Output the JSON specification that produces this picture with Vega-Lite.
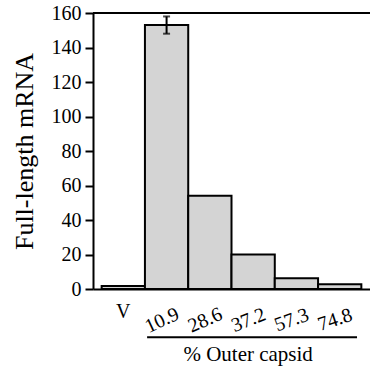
{
  "$schema": "https://vega.github.io/schema/vega-lite/v6.json",
  "width": 277,
  "height": 276,
  "autosize": "none",
  "padding": {"left": 93, "top": 13, "right": 0, "bottom": 84},
  "background": "white",
  "config": {"view": {"stroke": null}, "font": "Liberation Serif", "text": {"font": "Liberation Serif"}},
  "resolve": {"axis": {"x": "independent", "y": "independent"}},
  "data": {"values": [
    {"cat": "V", "value": 1.7},
    {"cat": "10.9", "value": 153, "lo": 148, "hi": 158},
    {"cat": "28.6", "value": 54},
    {"cat": "37.2", "value": 20},
    {"cat": "57.3", "value": 6.2},
    {"cat": "74.8", "value": 2.7}
  ]},
  "layer": [
    {
      "mark": {"type": "bar", "fill": "#d4d4d4", "stroke": "black", "strokeWidth": 2},
      "encoding": {
        "x": {"field": "cat", "type": "nominal", "sort": null,
          "scale": {"domain": ["V", "10.9", "28.6", "37.2", "57.3", "74.8"], "paddingInner": 0, "paddingOuter": 0.2},
          "axis": {"title": null, "labels": false, "ticks": false, "domain": true, "domainColor": "black", "domainWidth": 2}},
        "y": {"field": "value", "type": "quantitative",
          "scale": {"domain": [0, 160], "nice": false},
          "axis": {"title": "Full-length mRNA", "titleFont": "Liberation Serif", "titleFontSize": 26, "titleFontWeight": "normal", "titleColor": "black", "titlePadding": 14,
            "values": [0, 20, 40, 60, 80, 100, 120, 140, 160], "labelOverlap": false, "labelFont": "Liberation Serif", "labelFontSize": 20, "labelColor": "black", "labelPadding": 4,
            "tickSize": 8, "tickWidth": 2, "tickColor": "black", "domainColor": "black", "domainWidth": 2, "grid": false}}
      }
    },
    {
      "mark": {"type": "rule", "strokeWidth": 2, "color": "black"},
      "encoding": {"y": {"datum": 160, "axis": null}}
    },
    {
      "transform": [{"filter": "isValid(datum.hi)"}],
      "mark": {"type": "rule", "strokeWidth": 2, "color": "black"},
      "encoding": {
        "x": {"field": "cat", "type": "nominal", "axis": null},
        "y": {"field": "lo", "type": "quantitative", "axis": null},
        "y2": {"field": "hi"}
      }
    },
    {
      "transform": [{"filter": "isValid(datum.hi)"}],
      "mark": {"type": "tick", "size": 7, "thickness": 2, "color": "black", "orient": "horizontal"},
      "encoding": {
        "x": {"field": "cat", "type": "nominal", "axis": null},
        "y": {"field": "hi", "type": "quantitative", "axis": null}
      }
    },
    {
      "transform": [{"filter": "isValid(datum.hi)"}],
      "mark": {"type": "tick", "size": 7, "thickness": 2, "color": "black", "orient": "horizontal"},
      "encoding": {
        "x": {"field": "cat", "type": "nominal", "axis": null},
        "y": {"field": "lo", "type": "quantitative", "axis": null}
      }
    },
    {
      "transform": [{"filter": "datum.cat != 'V'"}],
      "mark": {"type": "text", "fontSize": 20, "font": "Liberation Serif", "color": "black", "align": "center", "baseline": "middle", "dx": -5},
      "encoding": {
        "x": {"field": "cat", "type": "nominal", "axis": null},
        "y": {"datum": -17, "axis": null},
        "text": {"field": "cat"},
        "angle": {"field": "cat", "type": "ordinal", "scale": {"domain": ["10.9", "28.6", "37.2", "57.3", "74.8"], "range": [-25, -18, -12, -7, -9]}, "legend": null}
      }
    },
    {
      "transform": [{"filter": "datum.cat == 'V'"}],
      "mark": {"type": "text", "fontSize": 20, "font": "Liberation Serif", "color": "black", "align": "center", "baseline": "middle"},
      "encoding": {
        "x": {"field": "cat", "type": "nominal", "axis": null},
        "y": {"datum": -13.5, "axis": null},
        "text": {"field": "cat"}
      }
    },
    {
      "data": {"values": [{"label": "% Outer capsid"}]},
      "mark": {"type": "rule", "strokeWidth": 2, "color": "black"},
      "encoding": {
        "x": {"datum": "10.9", "bandPosition": 0.05, "axis": null},
        "x2": {"datum": "74.8", "bandPosition": 0.9},
        "y": {"datum": -28, "axis": null}
      }
    },
    {
      "data": {"values": [{"label": "% Outer capsid"}]},
      "mark": {"type": "text", "fontSize": 21, "font": "Liberation Serif", "color": "black", "align": "center", "baseline": "middle", "dx": -5},
      "encoding": {
        "x": {"datum": "37.2", "axis": null},
        "y": {"datum": -38, "axis": null},
        "text": {"field": "label"}
      }
    }
  ]
}
